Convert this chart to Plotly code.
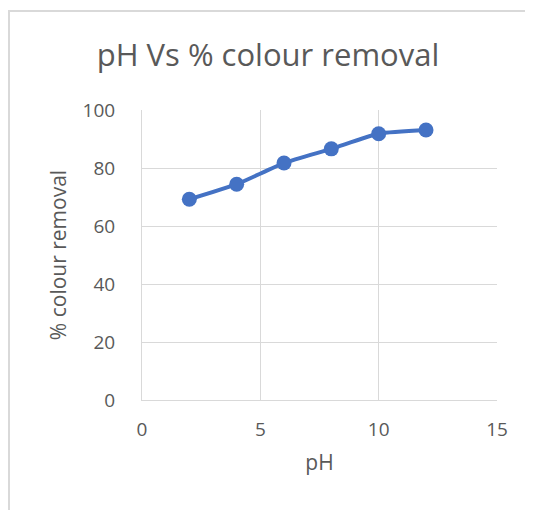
import plotly.graph_objects as go

# data
ph = [2, 4, 6, 8, 10, 12]
colour_removal = [69.2, 74.4, 81.7, 86.6, 91.8, 93.1]

x_ticks = [0, 5, 10, 15]
y_ticks = [0, 20, 40, 60, 80, 100]

# the page adds an 8px body margin, so the figure is drawn 8px smaller
OFF = 8
W, H = 533 - OFF, 510 - OFF
L, R, T, B = 142 - OFF, 497 - OFF, 110 - OFF, 400 - OFF  # plot area in pixels

font = "Open Sans"
grey = "#595959"
grid = "#D9D9D9"

fig = go.Figure()
fig.add_trace(go.Scatter(x=ph, y=colour_removal, mode="lines+markers",
                         line=dict(color="#4472C4", width=4, shape="spline", smoothing=0.6),
                         marker=dict(color="#4472C4", size=15),
                         showlegend=False))

# outer chart frame (only left and top edges fall inside the picture)
px_w, px_h = R - L, B - T
fig.add_shape(type="rect", xref="paper", yref="paper",
              x0=(9 - OFF - L) / px_w, x1=(W + 20 - L) / px_w,
              y0=(B - (H + 20)) / px_h, y1=(B - (11 - OFF)) / px_h,
              line=dict(color=grid, width=2), layer="below")

fig.update_layout(
    width=W, height=H,
    margin=dict(l=L, r=W - R, t=T, b=H - B),
    paper_bgcolor="white", plot_bgcolor="white",
    title=dict(text="pH Vs % colour removal", x=(268 - OFF) / W, xref="container", xanchor="center",
               y=1 - (55 - OFF) / H, yref="container", yanchor="middle",
               font=dict(family=font, size=31, color=grey)),
    font=dict(family=font, color=grey),
)
fig.update_xaxes(range=[0, 15], tickvals=x_ticks, showgrid=True, gridcolor=grid, gridwidth=1,
                 showline=True, linecolor=grid, linewidth=1, zeroline=False, ticks="",
                 tickfont=dict(size=19, color=grey), ticklabelstandoff=12,
                 title=dict(text="pH", font=dict(size=21, color=grey), standoff=14))
fig.update_yaxes(range=[0, 100], tickvals=y_ticks, showgrid=True, gridcolor=grid, gridwidth=1,
                 showline=True, linecolor=grid, linewidth=1, zeroline=False, ticks="",
                 tickfont=dict(size=19, color=grey), ticklabelstandoff=22,
                 title=dict(text="% colour removal", font=dict(size=21, color=grey), standoff=10))

fig.write_html("out.html")
